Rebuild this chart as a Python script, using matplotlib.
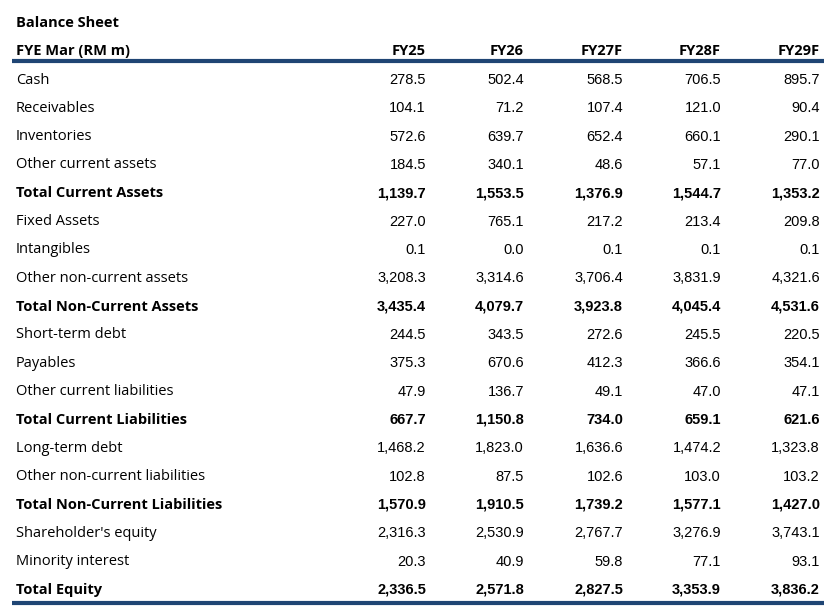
import matplotlib.pyplot as plt

years = ["FY25", "FY26", "FY27F", "FY28F", "FY29F"]
rows = [
    "Cash", "Receivables", "Inventories", "Other current assets",
    "Total Current Assets", "Fixed Assets", "Intangibles",
    "Other non-current assets", "Total Non-Current Assets",
    "Short-term debt", "Payables", "Other current liabilities",
    "Total Current Liabilities", "Long-term debt",
    "Other non-current liabilities", "Total Non-Current Liabilities",
    "Shareholder's equity", "Minority interest", "Total Equity",
]
values = [
    [278.5, 502.4, 568.5, 706.5, 895.7],
    [104.1, 71.2, 107.4, 121.0, 90.4],
    [572.6, 639.7, 652.4, 660.1, 290.1],
    [184.5, 340.1, 48.6, 57.1, 77.0],
    [1139.7, 1553.5, 1376.9, 1544.7, 1353.2],
    [227.0, 765.1, 217.2, 213.4, 209.8],
    [0.1, 0.0, 0.1, 0.1, 0.1],
    [3208.3, 3314.6, 3706.4, 3831.9, 4321.6],
    [3435.4, 4079.7, 3923.8, 4045.4, 4531.6],
    [244.5, 343.5, 272.6, 245.5, 220.5],
    [375.3, 670.6, 412.3, 366.6, 354.1],
    [47.9, 136.7, 49.1, 47.0, 47.1],
    [667.7, 1150.8, 734.0, 659.1, 621.6],
    [1468.2, 1823.0, 1636.6, 1474.2, 1323.8],
    [102.8, 87.5, 102.6, 103.0, 103.2],
    [1570.9, 1910.5, 1739.2, 1577.1, 1427.0],
    [2316.3, 2530.9, 2767.7, 3276.9, 3743.1],
    [20.3, 40.9, 59.8, 77.1, 93.1],
    [2336.5, 2571.8, 2827.5, 3353.9, 3836.2],
]

W, H = 836, 614
NAVY = "#1f4574"
LABEL_FONT = "Open Sans"
NUM_FONT = "Liberation Sans"

fig = plt.figure(figsize=(W / 100, H / 100), dpi=100)
ax = fig.add_axes([0, 0, 1, 1])
ax.set_xlim(0, W)
ax.set_ylim(H, 0)
ax.axis("off")

col_x = [426, 524, 623, 721, 820]

ax.text(16, 23, "Balance Sheet", fontsize=10.5, fontweight="bold",
        family=LABEL_FONT, va="center", color="black")
ax.text(16, 51, "FYE Mar (RM m)", fontsize=10.5, fontweight="bold",
        family=LABEL_FONT, va="center", color="black")
for x, y in zip(col_x, years):
    ax.text(x, 51, y, fontsize=10.5, fontweight="bold", family=LABEL_FONT,
            va="center", ha="right")
ax.plot([12, 824], [61, 61], color=NAVY, lw=3, solid_capstyle="butt")

for i, (name, vals) in enumerate(zip(rows, values)):
    y = 80 + i * 28.33
    bold = name.startswith("Total")
    fw = "bold" if bold else "normal"
    ax.text(16, y, name, fontsize=10.5, fontweight=fw, family=LABEL_FONT,
            va="center")
    for x, v in zip(col_x, vals):
        ax.text(x, y, f"{v:,.1f}", fontsize=10.5, fontweight=fw,
                family=NUM_FONT, va="center", ha="right")

ax.plot([12, 824], [603, 603], color=NAVY, lw=3, solid_capstyle="butt")

fig.savefig("out.png", dpi=100)
